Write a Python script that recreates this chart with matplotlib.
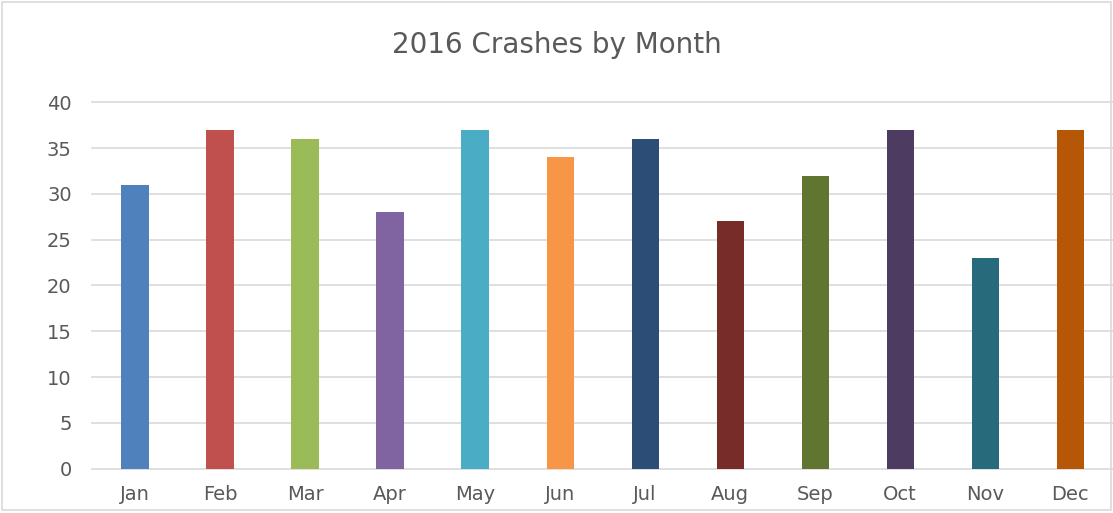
import matplotlib.pyplot as plt
from matplotlib.patches import Rectangle

# ---- data ----
months = ['Jan', 'Feb', 'Mar', 'Apr', 'May', 'Jun',
          'Jul', 'Aug', 'Sep', 'Oct', 'Nov', 'Dec']
crashes = [31, 37, 36, 28, 37, 34, 36, 27, 32, 37, 23, 37]
colors = ['#4F81BD', '#C0504D', '#9BBB59', '#8064A2', '#4BACC6', '#F79646',
          '#2C4D75', '#772C2A', '#5F7530', '#4D3B62', '#276A7C', '#B65708']
yticks = [0, 5, 10, 15, 20, 25, 30, 35, 40]

text_color = '#595959'
grid_color = '#D9D9D9'

fig = plt.figure(figsize=(11.13, 5.13), dpi=100)
ax = fig.add_axes([0.0831, 0.0864, 0.9165, 0.7142])

x = list(range(len(months)))
ax.bar(x, crashes, width=0.318, color=colors, zorder=3)

ax.set_xlim(-0.5, len(months) - 0.5)
ax.set_ylim(0, 40)
ax.set_yticks(yticks)
ax.set_xticks(x)
ax.set_xticklabels(months)

# gridlines drawn by hand so the top one is not clipped
for v in yticks:
    ax.axhline(v, color=grid_color, linewidth=1.2, zorder=0, clip_on=False)
for s in ax.spines.values():
    s.set_visible(False)

ax.tick_params(axis='both', length=0, labelsize=14, labelcolor=text_color)
ax.tick_params(axis='y', pad=15)
ax.tick_params(axis='x', pad=12)

fig.text(0.5, 0.912, '2016 Crashes by Month', ha='center', va='center',
         fontsize=20, color=text_color)

# light border around the whole chart
fig.patches.append(Rectangle((0.002, 0.006), 0.996, 0.99, transform=fig.transFigure,
                             fill=False, edgecolor='#D9D9D9', linewidth=1.2))

fig.savefig('out.png', dpi=100)
